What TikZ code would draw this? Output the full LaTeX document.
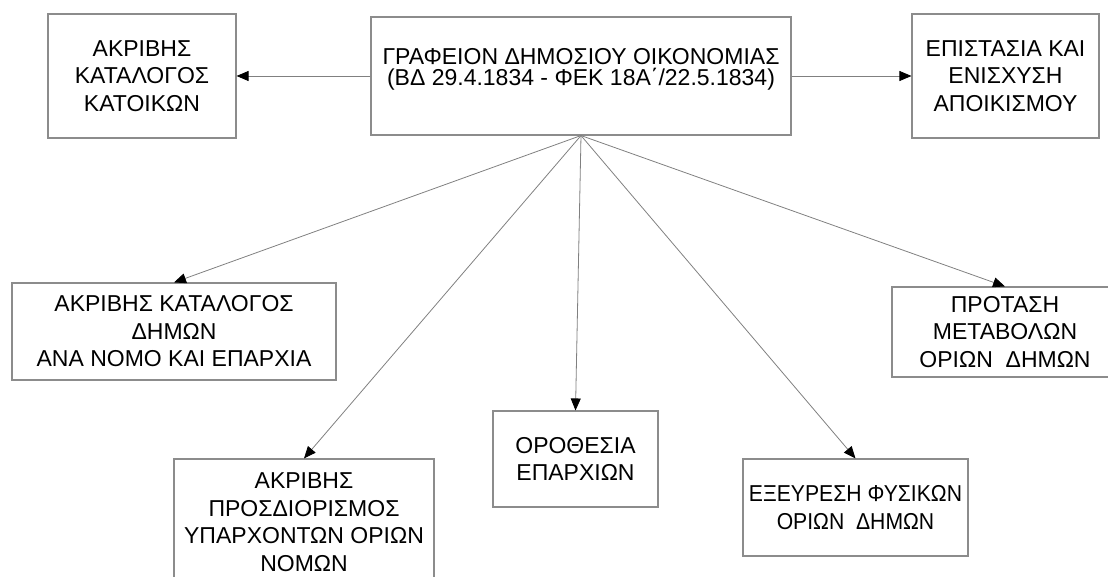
\documentclass[tikz,border=0pt]{standalone}
\usepackage{fontspec}
\setmainfont{Liberation Sans}
\newfontfamily\tightfont{Liberation Sans}[FakeStretch=0.92]
\usetikzlibrary{arrows.meta}

\begin{document}
\begin{tikzpicture}[x=1pt,y=-1pt,
    box/.style={draw=gray!90,line width=1.1pt,align=center,inner sep=0pt,
      font=\fontsize{23}{27.5}\selectfont},
    link/.style={draw=gray,line width=0.8pt,-{Triangle[length=12pt,width=10pt,black]}}]
      \useasboundingbox (0,0) rectangle (1108,577);
      \node[box,minimum width=420,minimum height=118,font=\fontsize{23}{21}\selectfont] (office) at (581,76)
        {ΓΡΑΦΕΙΟΝ ΔΗΜΟΣΙΟΥ ΟΙΚΟΝΟΜΙΑΣ\\(ΒΔ 29.4.1834 - ΦΕΚ 18Α΄/22.5.1834)\\[-10pt]\strut};
      \node[box,minimum width=188,minimum height=124] (residents) at (142,76)
        {ΑΚΡΙΒΗΣ\\ΚΑΤΑΛΟΓΟΣ\\ΚΑΤΟΙΚΩΝ};
      \node[box,minimum width=187,minimum height=124] (settle) at (1005.5,76)
        {ΕΠΙΣΤΑΣΙΑ ΚΑΙ\\ΕΝΙΣΧΥΣΗ\\ΑΠΟΙΚΙΣΜΟΥ};
      \node[box,minimum width=324,minimum height=97] (municip) at (174,331.5)
        {ΑΚΡΙΒΗΣ ΚΑΤΑΛΟΓΟΣ\\ΔΗΜΩΝ\\ΑΝΑ ΝΟΜΟ ΚΑΙ ΕΠΑΡΧΙΑ};
      \node[box,minimum width=260,minimum height=126] (prefect) at (304,522)
        {ΑΚΡΙΒΗΣ\\ΠΡΟΣΔΙΟΡΙΣΜΟΣ\\ΥΠΑΡΧΟΝΤΩΝ ΟΡΙΩΝ\\ΝΟΜΩΝ};
      \node[box,minimum width=165,minimum height=96] (province) at (575.5,459)
        {ΟΡΟΘΕΣΙΑ\\ΕΠΑΡΧΙΩΝ};
      \node[box,minimum width=225,minimum height=97,font=\tightfont\fontsize{23}{27.5}\selectfont] (natural) at (855.5,507.5)
        {ΕΞΕΥΡΕΣΗ ΦΥΣΙΚΩΝ\\ΟΡΙΩΝ\ \ ΔΗΜΩΝ};
      \node[box,minimum width=226,minimum height=90] (change) at (1005,332)
        {ΠΡΟΤΑΣΗ\\ΜΕΤΑΒΟΛΩΝ\\ΟΡΙΩΝ\ \ ΔΗΜΩΝ};
      \draw[link] (office.west) -- (residents.east);
      \draw[link] (office.east) -- (settle.west);
      \draw[link] (office.south) -- (municip.north);
      \draw[link] (office.south) -- (prefect.north);
      \draw[link] (office.south) -- (province.north);
      \draw[link] (office.south) -- (natural.north);
      \draw[link] (office.south) -- (change.north);
    \end{tikzpicture}
\end{document}
